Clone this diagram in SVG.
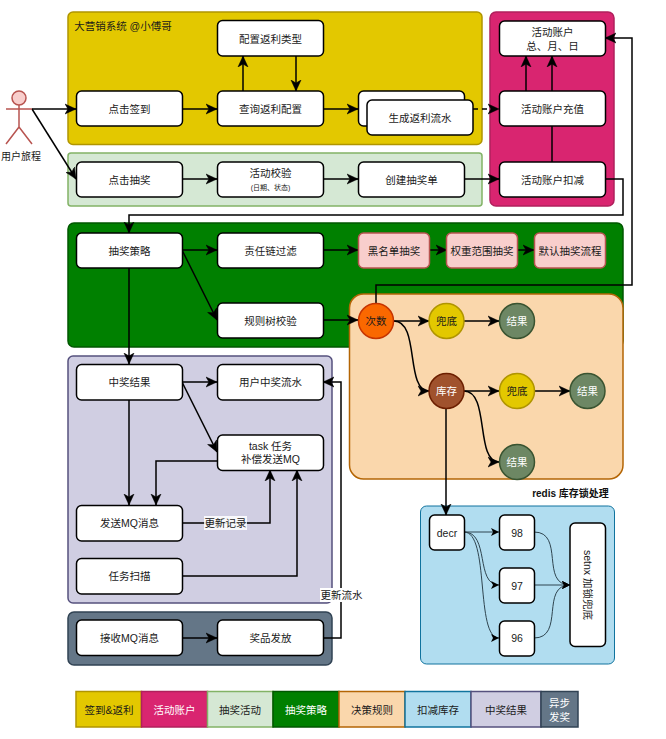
<svg xmlns="http://www.w3.org/2000/svg" width="666" height="739" viewBox="0 0 666 739">
<style>
text{font-family:"Liberation Sans","Noto Sans CJK SC",sans-serif;font-size:10.5px;fill:#1a1a1a;text-anchor:middle;dominant-baseline:central}
.w{fill:#fff}
.n{fill:#fff;stroke:#000;stroke-width:1.5}
.g{stroke-width:1.5}
.p{fill:#f8cecc;stroke:#b85450;stroke-width:1.5}
.c{stroke-width:1.5}
.e{fill:none;stroke:#000;stroke-width:1.5}
.a{marker-end:url(#arr)}
.t{fill:none;stroke:#2f4550;stroke-width:1;marker-end:url(#arr2)}
.yl{fill:#e3c800;stroke:#b09500}
.pk{fill:#d92570;stroke:#b0205c}
.lg{fill:#d5e8d4;stroke:#82b366}
.gr{fill:#008000;stroke:#005700}
.or{fill:#fad7ac;stroke:#b46504}
.bl{fill:#b1ddf0;stroke:#10739e}
.pu{fill:#d0cee2;stroke:#56517e}
.sl{fill:#647687;stroke:#314354}
.re{fill:#6d8764;stroke:#3a5431}
.l{stroke-width:1.5}
</style>
<defs>
<marker id="arr" markerUnits="userSpaceOnUse" markerWidth="14" markerHeight="12" refX="11" refY="6" orient="auto" viewBox="0 0 14 12"><path d="M0,1 L11,6 L0,11 L3,6 Z" fill="#000" stroke="#000" stroke-width="0.5"/></marker>
<marker id="arr2" markerUnits="userSpaceOnUse" markerWidth="10" markerHeight="10" refX="8" refY="5" orient="auto" viewBox="0 0 10 10"><path d="M0,1 L8,5 L0,9 L2,5 Z" fill="#000"/></marker>
</defs>

<g id="groups">
<rect id="group-signin" class="g yl" x="68" y="12" width="414" height="132.500" rx="5"/>
<text x="123" y="26">大营销系统 @小傅哥</text>
<rect id="group-activity" class="g lg" x="68" y="153" width="414" height="53" rx="3"/>
<rect id="group-account" class="g pk" x="490" y="12" width="124" height="194" rx="6"/>
<rect id="group-strategy" class="g gr" x="68" y="223" width="555" height="124" rx="6"/>
<rect id="group-rules" class="g or" x="349.500" y="294" width="273.500" height="185" rx="14"/>
<rect id="group-result" class="g pu" x="68" y="356" width="264" height="247" rx="5"/>
<rect id="group-async" class="g sl" x="68" y="612" width="264" height="53" rx="6"/>
<rect id="group-stock" class="bl" x="420.500" y="506" width="194" height="158" rx="6" stroke-width="1"/>
</g>

<g id="connectors">
<path class="e a" d="M32,109H76"/>
<path class="e a" d="M32,109L76,179"/>
<path class="e a" d="M182,109H217"/>
<path class="e a" d="M243,91V56"/>
<path class="e a" d="M296,56V91"/>
<path class="e a" d="M323,109H358"/>
<path class="e a" d="M473,109H499" stroke-dasharray="5 4"/>
<path class="e a" d="M526,91V56"/>
<path class="e a" d="M552,91V56"/>
<path class="e" d="M552,162V126"/>
<path class="e a" d="M182,179H217"/>
<path class="e a" d="M323,179H358"/>
<path class="e a" d="M464,179H499"/>
<path class="e a" d="M605,179H623V215H129V233"/>
<path class="e a" d="M376,303V285H632V38H605"/>
<path class="e a" d="M182,250H217"/>
<path class="e a" d="M182,250L217,320"/>
<path class="e a" d="M323,250H358"/>
<path class="e a" d="M429,250H447"/>
<path class="e a" d="M517,250H534"/>
<path class="e a" d="M323,320H358"/>
<path class="e a" d="M129,268V364"/>
<path class="e a" d="M394,321H429"/>
<path class="e a" d="M464,321H499"/>
<path class="e a" d="M394,321C420,321 405,391 429,391"/>
<path class="e a" d="M464,391H499"/>
<path class="e a" d="M535,391H570"/>
<path class="e a" d="M464,391C490,391 475,462 499,462"/>
<path class="e a" d="M446,409V515"/>
<path class="t" d="M464,532H499"/>
<path class="t" d="M464,532C490,532 475,585 499,585"/>
<path class="t" d="M464,532C490,532 475,638 499,638"/>
<path class="t" d="M534,532C565,532 540,585 570,585"/>
<path class="t" d="M534,585H570"/>
<path class="t" d="M534,638C565,638 540,585 570,585"/>
<path class="e a" d="M182,382H217"/>
<path class="e a" d="M182,382L217,452"/>
<path class="e a" d="M129,400V505"/>
<path class="e a" d="M217,461H156V505"/>
<path class="e a" d="M182,523H270V470"/>
<path class="e a" d="M182,576H297V470"/>
<path class="e a" d="M182,638H217"/>
<path class="e a" d="M323,638H341V382H323"/>
<rect x="204" y="516" width="43" height="14" fill="#fff" fill-opacity="0.85"/>
<text x="225.500" y="523">更新记录</text>
<rect x="320" y="588" width="43" height="14" fill="#fff"/>
<text x="341.500" y="595">更新流水</text>
</g>

<g id="actor" fill="none" stroke="#b85450" stroke-width="1.5">
<circle cx="19" cy="98" r="7" fill="#f8cecc"/>
<path d="M19,105V127M6,109H32M19,127L6,144M19,127L32,144"/>
<text x="21" y="156" stroke="none" style="font-size:10px">用户旅程</text>
</g>

<g id="n-signin"><rect class="n" x="76.500" y="91" width="106" height="35" rx="5"/><text x="129.500" y="109">点击签到</text></g>
<g id="n-config-type"><rect class="n" x="217.500" y="20.500" width="106" height="35.500" rx="5"/><text x="270.500" y="38.500">配置返利类型</text></g>
<g id="n-config-query"><rect class="n" x="217.500" y="91" width="106" height="35" rx="5"/><text x="270.500" y="109">查询返利配置</text></g>
<g id="n-rebate-back"><rect class="n" x="358.500" y="91" width="106" height="35" rx="5"/></g>
<g id="n-rebate"><rect class="n" x="367" y="100" width="106" height="35" rx="5"/><text x="420" y="118">生成返利流水</text></g>
<g id="n-raffle"><rect class="n" x="76.500" y="162" width="106" height="35" rx="5"/><text x="129.500" y="179.500">点击抽奖</text></g>
<g id="n-check"><rect class="n" x="217.500" y="162" width="106" height="35" rx="5"/><text x="270.500" y="173">活动校验</text><text x="270.500" y="187" style="font-size:7px">(日期、状态)</text></g>
<g id="n-order"><rect class="n" x="358.500" y="162" width="106" height="35" rx="5"/><text x="411.500" y="179.500">创建抽奖单</text></g>
<g id="n-account"><rect class="n" x="499.500" y="21" width="106" height="35" rx="5"/><text x="552.500" y="32">活动账户</text><text x="552.500" y="45.500">总、月、日</text></g>
<g id="n-recharge"><rect class="n" x="499.500" y="91" width="106" height="35" rx="5"/><text x="552.500" y="109">活动账户充值</text></g>
<g id="n-deduct"><rect class="n" x="499.500" y="162" width="106" height="35" rx="5"/><text x="552.500" y="179.500">活动账户扣减</text></g>

<g id="n-strategy"><rect class="n" x="76.500" y="233" width="106" height="35" rx="5"/><text x="129.500" y="250.500">抽奖策略</text></g>
<g id="n-chain"><rect class="n" x="217.500" y="233" width="106" height="35" rx="5"/><text x="270.500" y="250.500">责任链过滤</text></g>
<g id="n-tree"><rect class="n" x="217.500" y="303" width="106" height="35" rx="5"/><text x="270.500" y="321">规则树校验</text></g>
<g id="n-black"><rect class="p" x="358.500" y="233" width="71" height="35" rx="5"/><text x="394" y="250.500">黑名单抽奖</text></g>
<g id="n-weight"><rect class="p" x="446.500" y="233" width="71" height="35" rx="5"/><text x="482" y="250.500">权重范围抽奖</text></g>
<g id="n-default"><rect class="p" x="534.500" y="233" width="71" height="35" rx="5"/><text x="570" y="250.500">默认抽奖流程</text></g>

<g id="n-count"><circle class="c" cx="376" cy="321" r="17.500" fill="#fa6800" stroke="#c73500"/><text x="376" y="321">次数</text></g>
<g id="n-fallback1"><circle class="c yl" cx="446.500" cy="321" r="17.500"/><text x="446.500" y="321">兜底</text></g>
<g id="n-result1"><circle class="c re" cx="517" cy="321" r="17.500"/><text class="w" x="517" y="321">结果</text></g>
<g id="n-stock"><circle class="c" cx="446.500" cy="391" r="17.500" fill="#a0522d" stroke="#6d1f00"/><text class="w" x="446.500" y="391">库存</text></g>
<g id="n-fallback2"><circle class="c yl" cx="517" cy="391" r="17.500"/><text x="517" y="391">兜底</text></g>
<g id="n-result2"><circle class="c re" cx="587.500" cy="391" r="17.500"/><text class="w" x="587.500" y="391">结果</text></g>
<g id="n-result3"><circle class="c re" cx="517" cy="462" r="17.500"/><text class="w" x="517" y="462">结果</text></g>

<g id="n-win"><rect class="n" x="76.500" y="364.500" width="106" height="35.500" rx="5"/><text x="129.500" y="382">中奖结果</text></g>
<g id="n-flow"><rect class="n" x="217.500" y="364.500" width="106" height="35.500" rx="5"/><text x="270.500" y="382">用户中奖流水</text></g>
<g id="n-task"><rect class="n" x="217.500" y="435" width="106" height="35.500" rx="5"/><text x="270.500" y="446">task 任务</text><text x="270.500" y="459">补偿发送MQ</text></g>
<g id="n-send"><rect class="n" x="76.500" y="505.500" width="106" height="35.500" rx="5"/><text x="129.500" y="523">发送MQ消息</text></g>
<g id="n-scan"><rect class="n" x="76.500" y="558.500" width="106" height="35.500" rx="5"/><text x="129.500" y="576">任务扫描</text></g>
<g id="n-receive"><rect class="n" x="76.500" y="620" width="106" height="35.500" rx="5"/><text x="129.500" y="638">接收MQ消息</text></g>
<g id="n-award"><rect class="n" x="217.500" y="620" width="106" height="35.500" rx="5"/><text x="270.500" y="638">奖品发放</text></g>

<g id="redis-title"><text x="570.500" y="493" style="font-size:10px;font-weight:bold;fill:#111">redis 库存锁处理</text></g>
<g id="n-decr"><rect class="n" x="429.500" y="515" width="35" height="35" rx="5"/><text x="447" y="533">decr</text></g>
<g id="n-98"><rect class="n" x="499.500" y="515" width="35" height="35" rx="5"/><text x="517" y="533">98</text></g>
<g id="n-97"><rect class="n" x="499.500" y="568" width="35" height="35" rx="5"/><text x="517" y="586">97</text></g>
<g id="n-96"><rect class="n" x="499.500" y="621" width="35" height="35" rx="5"/><text x="517" y="638">96</text></g>
<g id="n-setnx"><rect class="n" x="570" y="523" width="35.500" height="123.500" rx="5"/><text x="587.500" y="585" transform="rotate(90 587.500 585)">setnx 加锁兜底</text></g>

<g id="legend">
<g id="lg-1"><rect class="l yl" x="76" y="691.500" width="65.500" height="35.500"/><text x="109" y="710">签到&amp;返利</text></g>
<g id="lg-2"><rect class="l pk" x="141.500" y="691.500" width="66" height="35.500"/><text class="w" x="174.500" y="710">活动账户</text></g>
<g id="lg-3"><rect class="l lg" x="207.500" y="691.500" width="65.500" height="35.500"/><text x="240" y="710">抽奖活动</text></g>
<g id="lg-4"><rect class="l gr" x="273" y="691.500" width="66" height="35.500"/><text class="w" x="306" y="710">抽奖策略</text></g>
<g id="lg-5"><rect class="l or" x="339" y="691.500" width="66" height="35.500"/><text x="372" y="710">决策规则</text></g>
<g id="lg-6"><rect class="l bl" x="405" y="691.500" width="66" height="35.500"/><text x="438" y="710">扣减库存</text></g>
<g id="lg-7"><rect class="l pu" x="471" y="691.500" width="70" height="35.500"/><text x="506" y="710">中奖结果</text></g>
<g id="lg-8"><rect class="l sl" x="541" y="691.500" width="37" height="35.500"/><text class="w" x="559.500" y="703">异步</text><text class="w" x="559.500" y="717">发奖</text></g>
</g>
</svg>
